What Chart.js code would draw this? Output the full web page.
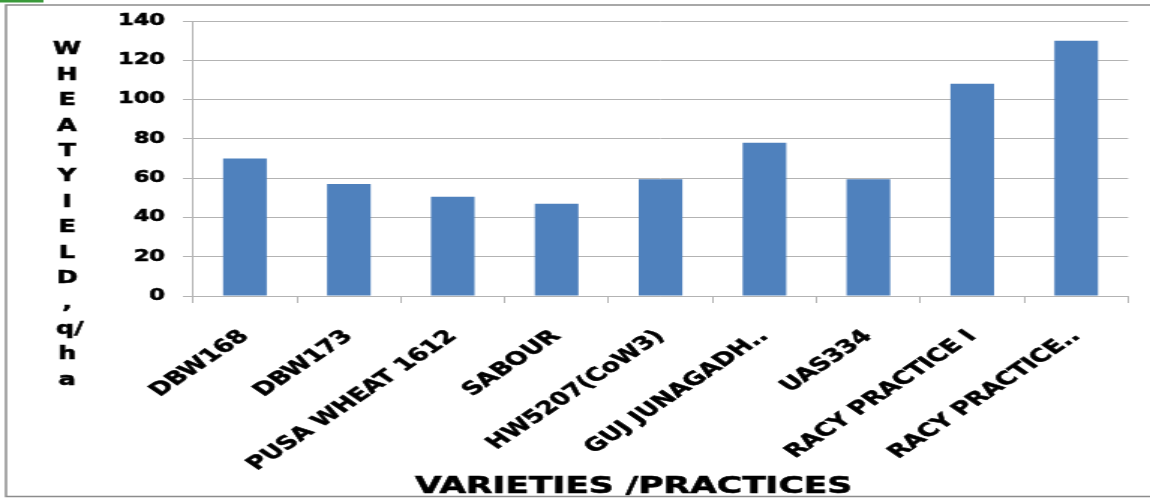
<!DOCTYPE html>
<html>
<head>
<meta charset="utf-8">
<script src="https://cdn.jsdelivr.net/npm/chart.js@4.4.1/dist/chart.umd.min.js"></script>
<style>
  html, body { margin: 0; padding: 0; background: #fff; overflow: hidden; }
  #c { display: block; width: 1150px; height: 499px; }
</style>
</head>
<body>
<canvas id="c" width="767" height="499" style="width:1150px;height:499px;"></canvas>
<script>
const categories = ['DBW168', 'DBW173', 'PUSA WHEAT 1612', 'SABOUR', 'HW5207(CoW3)', 'GUJ JUNAGADH..', 'UAS334', 'RACY PRACTICE I', 'RACY PRACTICE..'];
const yieldValues = [70, 57, 50.5, 47, 59.5, 78, 59.5, 108, 130];
const yTickMin = 0;
const yTickMax = 140;
const yTickStep = 20;
const yTitleLetters = ['W', 'H', 'E', 'A', 'T', 'Y', 'I', 'E', 'L', 'D', ',', 'q/', 'h', 'a'];
const xTitle = 'VARIETIES /PRACTICES';

const FONT = "'DejaVu Sans', 'Liberation Sans', Arial, sans-serif";

const decor = {
  id: 'decor',
  afterDraw(chart) {
    const ctx = chart.ctx;
    ctx.save();
    ctx.fillStyle = '#000';
    ctx.strokeStyle = '#000';
    ctx.lineWidth = 0.6;
    ctx.font = 'bold 17px ' + FONT;
    ctx.textAlign = 'center';
    ctx.textBaseline = 'middle';
    yTitleLetters.forEach((ch, i) => {
      const x = ch === 'q/' ? 46.5 : 44.7;
      ctx.fillText(ch, x, 50 + i * 25.4);
      ctx.strokeText(ch, x, 50 + i * 25.4);
    });
    ctx.font = 'bold 23px ' + FONT;
    ctx.textBaseline = 'alphabetic';
    ctx.fillText(xTitle, 422.5, 493);
    ctx.strokeText(xTitle, 422.5, 493);
    // frame
    ctx.strokeStyle = '#8c8c8c';
    ctx.lineWidth = 1.5;
    ctx.beginPath();
    ctx.moveTo(770, 5);
    ctx.lineTo(4, 5);
    ctx.lineTo(4, 496.5);
    ctx.lineTo(770, 496.5);
    ctx.stroke();
    // green mark top-left
    ctx.strokeStyle = '#3a9a3a';
    ctx.lineWidth = 3;
    ctx.beginPath();
    ctx.moveTo(0, 1);
    ctx.lineTo(29, 1);
    ctx.stroke();
    ctx.restore();
  }
};

new Chart(document.getElementById('c'), {
  type: 'bar',
  data: {
    labels: categories,
    datasets: [{
      data: yieldValues,
      backgroundColor: '#4F81BD',
      borderWidth: 0,
      barPercentage: 0.42,
      categoryPercentage: 1.0
    }]
  },
  options: {
    responsive: false,
    animation: false,
    devicePixelRatio: 1,
    layout: { padding: { left: 0, right: 14.6, top: 17, bottom: 0 } },
    plugins: { legend: { display: false }, tooltip: { enabled: false } },
    scales: {
      x: {
        afterFit(scale) { scale.height = 203; },
        grid: { display: true, drawOnChartArea: false, drawTicks: true, tickLength: 7, offset: true, color: '#b3b3b3', lineWidth: 1 },
        border: { display: true, color: '#b3b3b3', width: 1 },
        ticks: {
          autoSkip: false,
          maxRotation: 45,
          minRotation: 45,
          padding: 23,
          color: '#000',
          textStrokeColor: '#000',
          textStrokeWidth: 0.6,
          font: { family: FONT, size: 18, weight: 'bold' }
        }
      },
      y: {
        min: yTickMin,
        max: yTickMax,
        afterFit(scale) { scale.width = 128.7; },
        grid: { color: '#b3b3b3', lineWidth: 1, drawTicks: true, tickLength: 6.7 },
        border: { display: true, color: '#b3b3b3', width: 1 },
        ticks: {
          stepSize: yTickStep,
          padding: 12,
          color: '#000',
          textStrokeColor: '#000',
          textStrokeWidth: 0.6,
          font: { family: FONT, size: 15, weight: 'bold' }
        }
      }
    }
  },
  plugins: [decor]
});
</script>
</body>
</html>
